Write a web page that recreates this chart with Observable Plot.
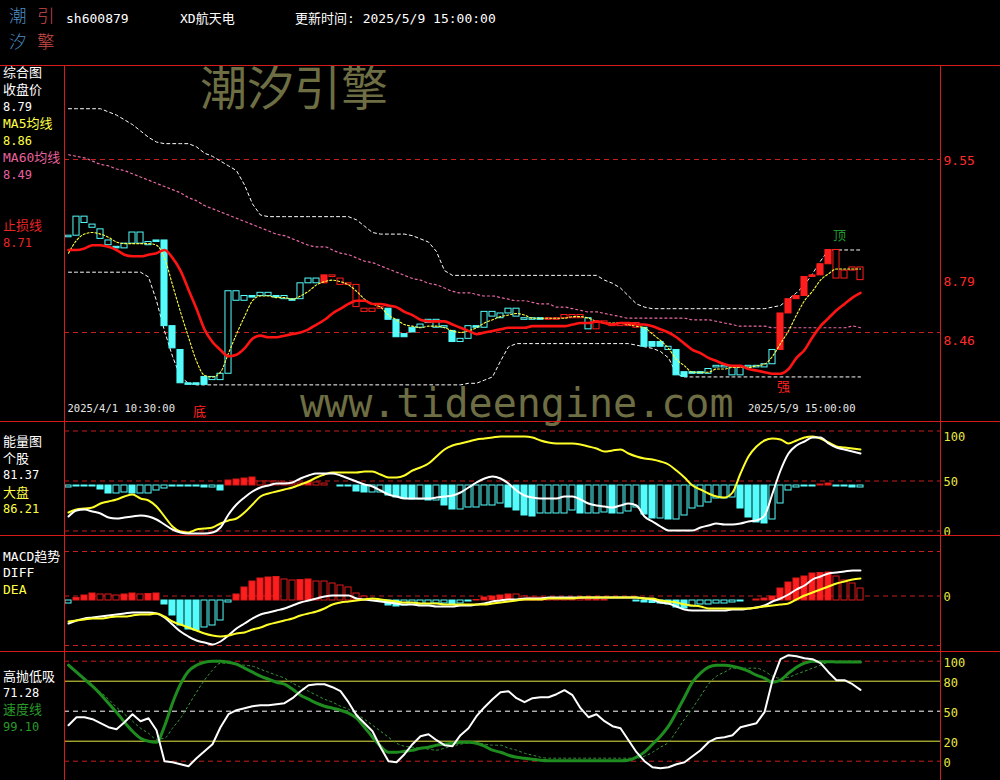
<!DOCTYPE html>
<html><head><meta charset="utf-8">
<script src="https://cdn.jsdelivr.net/npm/d3@7"></script>
<script src="https://cdn.jsdelivr.net/npm/@observablehq/plot@0.6"></script>
<style>
html,body{margin:0;padding:0;background:#000;}
#root{position:relative;width:1000px;height:780px;background:#000;overflow:hidden;font-family:"DejaVu Sans Mono","Noto Sans CJK SC",monospace;color:#fff;}
.t{position:absolute;white-space:nowrap;line-height:16px;font-size:13px;}
.panel{position:absolute;left:0;}
.panel svg{display:block;}
.h{position:absolute;left:0;width:1000px;height:1px;background:#d41c1c;}
.v{position:absolute;top:65px;width:1px;height:715px;background:#d41c1c;}
</style></head><body><div id="root"></div>
<script>
// ---------------- DATA ----------------
const stockCode = "sh600879";
const stockName = "XD航天电";
const updateTime = "更新时间: 2025/5/9 15:00:00";
const firstTime = "2025/4/1 10:30:00";
const lastTime = "2025/5/9 15:00:00";

// hourly bars (100)
const open = [9.06,9.07,9.15,9.12,9.05,9.01,9.00,8.99,9.02,9.02,
 9.01,9.04,9.04,8.50,8.35,8.14,8.14,8.18,8.16,8.16,
 8.20,8.66,8.66,8.69,8.69,8.69,8.69,8.67,8.67,8.67,
 8.77,8.77,8.77,8.82,8.80,8.77,8.76,8.61,8.61,8.62,
 8.61,8.54,8.45,8.49,8.49,8.52,8.49,8.49,8.47,8.40,
 8.42,8.50,8.49,8.56,8.55,8.58,8.56,8.54,8.54,8.55,
 8.55,8.55,8.57,8.57,8.57,8.48,8.52,8.53,8.51,8.52,
 8.50,8.52,8.49,8.40,8.40,8.35,8.35,8.21,8.21,8.21,
 8.20,8.24,8.24,8.19,8.19,8.24,8.24,8.24,8.26,8.35,
 8.58,8.67,8.69,8.81,8.82,8.89,8.98,8.85,8.87,8.87];
const close = [9.07,9.19,9.19,9.14,9.11,9.04,8.99,9.02,9.09,9.09,
 9.03,9.03,8.50,8.36,8.14,8.13,8.13,8.13,8.18,8.20,
 8.72,8.72,8.69,8.68,8.71,8.71,8.68,8.69,8.66,8.77,
 8.80,8.80,8.82,8.81,8.76,8.76,8.62,8.59,8.59,8.61,
 8.54,8.43,8.43,8.46,8.51,8.54,8.54,8.50,8.40,8.42,
 8.50,8.49,8.59,8.59,8.58,8.61,8.61,8.55,8.55,8.54,
 8.54,8.54,8.55,8.55,8.55,8.55,8.48,8.52,8.50,8.50,
 8.52,8.49,8.37,8.37,8.37,8.37,8.19,8.18,8.20,8.20,
 8.23,8.25,8.25,8.24,8.24,8.25,8.25,8.26,8.35,8.58,
 8.67,8.69,8.81,8.82,8.89,8.98,8.80,8.80,8.85,8.79];
// trend state: 1 = strong (red), 0 = weak (cyan)
const trend = [0,0,0,0,0,0,0,0,0,0, 0,0,0,0,0,0,0,0,0,0, 0,0,0,0,0,0,0,0,0,0,
 0,0,1,1,1,1,1,1,1,1, 0,0,0,0,0,0,0,0,0,0, 0,0,0,0,0,0,0,0,0,0,
 1,1,1,1,1,0,1,1,1,1, 1,1,0,0,0,0,0,0,0,0, 0,0,0,0,0,0,0,0,0,1,
 1,1,1,1,1,1,1,1,1,1];
const ma5 = [8.96,9.04,9.08,9.09,9.08,9.06,9.03,9.02,9.02,9.02,
 9.02,9.01,8.93,8.76,8.59,8.43,8.28,8.19,8.18,8.21,
 8.33,8.45,8.56,8.66,8.69,8.69,8.68,8.68,8.67,8.69,
 8.72,8.76,8.78,8.79,8.78,8.76,8.72,8.67,8.64,8.62,
 8.57,8.54,8.51,8.50,8.49,8.50,8.50,8.49,8.47,8.46,
 8.47,8.49,8.52,8.54,8.56,8.57,8.58,8.57,8.55,8.55,
 8.55,8.55,8.55,8.56,8.56,8.55,8.53,8.52,8.52,8.52,
 8.51,8.50,8.49,8.45,8.41,8.36,8.29,8.25,8.21,8.21,
 8.21,8.23,8.23,8.24,8.24,8.24,8.25,8.26,8.31,8.39,
 8.47,8.57,8.66,8.72,8.79,8.83,8.86,8.86,8.86,8.86];
const ma60 = [9.58,9.57,9.56,9.54,9.52,9.51,9.49,9.48,9.46,9.44,
 9.42,9.40,9.38,9.36,9.34,9.31,9.29,9.26,9.24,9.22,
 9.20,9.18,9.16,9.14,9.12,9.10,9.08,9.07,9.05,9.03,
 9.01,9.00,9.00,8.98,8.96,8.95,8.93,8.91,8.90,8.88,
 8.86,8.84,8.82,8.80,8.79,8.77,8.76,8.74,8.72,8.71,
 8.71,8.70,8.69,8.69,8.68,8.67,8.66,8.66,8.65,8.64,
 8.64,8.62,8.62,8.61,8.60,8.59,8.59,8.58,8.57,8.56,
 8.55,8.55,8.55,8.55,8.55,8.55,8.55,8.55,8.54,8.54,
 8.54,8.53,8.52,8.51,8.50,8.50,8.50,8.50,8.49,8.49,
 8.49,8.49,8.49,8.49,8.49,8.49,8.49,8.49,8.50,8.49];
const stopLine = [8.98,8.98,8.99,9.01,9.01,9.00,8.98,8.95,8.94,8.94,
 8.95,8.96,8.98,8.93,8.85,8.73,8.61,8.48,8.40,8.35,
 8.31,8.32,8.36,8.42,8.44,8.43,8.43,8.44,8.45,8.46,
 8.48,8.51,8.54,8.58,8.61,8.64,8.66,8.66,8.64,8.64,
 8.63,8.62,8.59,8.57,8.54,8.53,8.53,8.53,8.51,8.49,
 8.47,8.45,8.46,8.47,8.48,8.49,8.49,8.49,8.50,8.50,
 8.50,8.50,8.50,8.51,8.52,8.52,8.53,8.52,8.51,8.52,
 8.52,8.51,8.51,8.50,8.48,8.46,8.43,8.39,8.35,8.33,
 8.30,8.28,8.26,8.25,8.25,8.23,8.22,8.21,8.20,8.20,
 8.23,8.30,8.35,8.43,8.50,8.55,8.60,8.64,8.68,8.71];
const upperBand = [9.87,9.87,9.87,9.87,9.87,9.85,9.83,9.80,9.77,9.73,
 9.69,9.66,9.65,9.65,9.65,9.65,9.63,9.59,9.57,9.54,
 9.51,9.48,9.39,9.27,9.20,9.19,9.19,9.19,9.19,9.19,
 9.19,9.19,9.19,9.19,9.19,9.19,9.17,9.13,9.09,9.08,
 9.08,9.08,9.08,9.07,9.05,9.03,8.97,8.85,8.82,8.82,
 8.82,8.82,8.82,8.82,8.82,8.82,8.82,8.82,8.82,8.82,
 8.82,8.82,8.82,8.82,8.82,8.82,8.82,8.79,8.77,8.74,
 8.69,8.64,8.62,8.61,8.61,8.61,8.61,8.61,8.61,8.61,
 8.61,8.61,8.61,8.61,8.61,8.61,8.61,8.61,8.62,8.63,
 8.67,8.71,8.76,8.83,8.91,8.98,8.98,8.98,8.98,8.98];
const lowerBand = [8.84,8.84,8.84,8.84,8.84,8.84,8.84,8.84,8.84,8.84,
 8.81,8.66,8.47,8.31,8.18,8.14,8.13,8.13,8.13,8.13,
 8.13,8.13,8.13,8.13,8.13,8.13,8.13,8.13,8.13,8.13,
 8.13,8.13,8.13,8.13,8.13,8.13,8.13,8.13,8.13,8.13,
 8.13,8.13,8.13,8.13,8.13,8.13,8.13,8.13,8.13,8.13,
 8.14,8.14,8.16,8.18,8.28,8.37,8.39,8.39,8.39,8.39,
 8.39,8.39,8.39,8.39,8.39,8.39,8.39,8.39,8.39,8.39,
 8.39,8.38,8.37,8.36,8.34,8.30,8.20,8.18,8.18,8.18,
 8.18,8.18,8.18,8.18,8.18,8.18,8.18,8.18,8.18,8.18,
 8.18,8.18,8.18,8.18,8.18,8.18,8.18,8.18,8.18,8.18];
const priceGrid = [9.55, 8.46];
const priceTicks = [9.55, 8.79, 8.46];
const marks = [{i: 96, p: 9.07, t: "顶", c: "#1f9a2a"}, {i: 16, p: 7.96, t: "底", c: "#ff2020"}, {i: 89, p: 8.12, t: "强", c: "#ff2020"}];

// energy panel
const energyStock = [14.5,20.5,21.5,19.5,17.5,13.5,12.5,13.5,14.5,15.5,
 14.5,11.5,6.5,1.5,-1.5,-2.5,-2.5,-2.5,-1.5,3.5,
 16.5,26.5,33.5,39.5,43.5,45.5,47.5,47.5,48.5,52.5,
 55.5,57.5,57.5,57.5,55.5,52.5,49.5,46.5,44.5,40.5,
 36.5,34.5,32.5,32.5,32.5,32.5,33.5,34.5,35.5,38.5,
 43.5,48.5,52.5,54.5,52.5,47.5,40.5,35.5,33.5,32.5,
 32.5,32.5,34.5,34.5,31.5,27.5,25.5,24.5,23.5,25.5,
 27.5,25.5,14.5,9.5,4.5,0.5,0.5,0.5,0.5,3.5,
 5.5,7.5,6.5,6.5,7.5,9.5,10.5,15.5,37.5,60.5,
 77.5,85.5,89.5,93.5,93.5,87.5,83.5,81.5,79.5,77.5];
const energyMarket = [18.5,21.5,22.5,23.5,27.5,29.5,31.5,34.5,36.5,32.5,
 30.5,24.5,14.5,4.5,-0.5,-1.5,1.5,2.5,3.5,7.5,
 10.5,12.5,18.5,26.5,34.5,37.5,39.5,41.5,43.5,46.5,
 49.5,53.5,56.5,58.5,58.5,58.5,58.5,59.5,59.5,56.5,
 53.5,53.5,55.5,60.5,63.5,67.5,74.5,81.5,85.5,87.5,
 89.5,91.5,92.5,93.5,94.5,94.5,94.5,94.5,93.5,90.5,
 88.5,87.5,87.5,87.5,86.5,84.5,82.5,79.5,80.5,81.5,
 77.5,74.5,72.5,71.5,69.5,66.5,60.5,53.5,45.5,41.5,
 37.5,34.5,33.5,38.5,57.5,74.5,84.5,90.5,92.5,91.5,
 87.5,90.5,93.5,94.5,92.5,88.5,84.5,83.5,82.5,81.5];
const energyBase = 45.5;
const energyBars = [-2,-1,-1,-1,-4,-8,-8,-7,-8,-8,
 -8,-5,-3,-1,-1,-1,-1,-2,-2,-5,
 5,6,7,8,4,4,4,3,2,2,
 3,3,2,0,-1,-1,-6,-7,-7,-7,
 -10,-12,-13,-14,-14,-15,-15,-20,-24,-24,
 -22,-22,-20,-20,-18,-22,-25,-30,-31,-28,
 -28,-28,-28,-25,-28,-28,-28,-27,-28,-28,
 -26,-22,-29,-33,-33,-34,-34,-30,-23,-21,
 -17,-13,-13,-12,-23,-32,-37,-38,-34,-18,
 -5,-2,-1,-1,1,2,-1,-1,-2,-2];
const energyGrid = [100, 50, 0];

// MACD panel
const diff = [-23,-20,-18,-17,-16,-15,-14,-13,-12,-12,
 -12,-13,-17,-24,-31,-36,-40,-42,-44,-41,
 -35,-28,-23,-18,-14,-12,-10,-8,-5,-2,
 0,2,4,5,5,5,2,1,0,-1,
 -2,-3,-4,-4,-5,-5,-6,-6,-6,-5,
 -5,-4,-3,-1,0,1,1,2,2,2,
 3,3,3,3,3,3,3,3,3,3,
 3,3,2,1,-2,-3,-6,-9,-10,-10,
 -10,-10,-10,-9,-9,-8,-7,-5,-1,2,
 6,11,15,21,24,27,28,29,30,30];
const dea = [-21,-20,-19,-18,-18,-17,-16,-16,-15,-14,
 -14,-13,-16,-21,-24,-27,-30,-33,-35,-36,
 -35,-33,-32,-29,-27,-24,-22,-20,-18,-15,
 -13,-11,-8,-4,-2,-1,0,1,2,1,
 0,-1,-2,-2,-3,-3,-3,-4,-4,-4,
 -4,-4,-4,-3,-2,-1,0,1,1,1,
 2,2,2,2,3,3,3,3,3,3,
 3,3,2,2,0,-1,-2,-4,-5,-6,
 -8,-8,-8,-8,-8,-8,-7,-6,-5,-4,
 -3,1,5,8,11,14,17,19,21,22];
const macdHist = [-3,2.5,5,7,6,6,5,6,7,6,
 6.5,7,-4,-15,-25,-29,-30,-27,-25,-20,
 -2,6,13,19,22,23,23.5,21,20,20.5,
 21,19,19,17,15,13,7,4,1,-1,
 -5,-6,-5,-4,-4,-4,-3,-3,-4,-3,
 -1,0.5,3,4,5,6,6,4,3,3,
 2,2,1.5,1.5,1.5,1,1,0.5,0,0,
 0,-1,-2,-2.5,-3,-4,-7,-8,-6,-4,
 -4,-3,-3,-2,-1,0,1,2,4,12,
 18,22,24,27,27.5,28,24,20,17,12];
const macdGrid = [49, 4.5, -45];
const macdZeroLabel = 4.5;

// high-sell / low-buy panel
const hsLine = [36,44,44,42,38,34,32,39,47,40,
 43,31,0,-1,-3,-5,3,10,17,34,
 47,51,53,55,56,56,57,58,63,70,
 76,77,77,74,70,59,46,38,30,14,
 0,-1,7,17,25,27,21,16,15,26,
 33,45,54,62,69,70,63,59,63,64,
 64,67,71,66,53,44,47,40,35,33,
 21,9,0,-6,-7,-6,-3,-1,5,11,
 19,23,24,26,34,36,38,49,81,102,
 106,105,103,102,98,89,81,81,77,71.3];
const speedLine = [96,89,82,75,67,58,49,39,30,23,
 20,19,35,58,77,90,96,99,100,100,
 99,97,93,89,85,82,79,77,72,66,
 62,58,55,53,51,48,43,34,24,15,
 9,9,10,11,13,14,16,17,18,19,
 19,18,15,11,9,6,4,3,2,1,
 0.5,0.5,0.5,0.5,0.5,0.5,0.5,0.5,0.5,0.5,
 1,4,9,17,25,35,49,64,79,88,
 94,96,96,95,93,90,86,83,79,81,
 88,94,98,100,99.5,99.4,99.3,99.2,99.1,99.1];
const speedSlow = [96,89,82,75,69,62,54,47,40,33,
 28,22,23,33,43,56,69,81,91,98,
 98,97,96,95,92,89,86,83,78,74,
 70,66,62,59,55,52,47,42,36,30,
 24,18,15,14,13,12,11,13,15,17,
 18,18,17,16,16,13,11,8,6,4,
 3,3,3,3,3,3,3,3,3,3,
 3,3,5,9,14,19,30,42,53,65,
 77,85,89,93,93,93,93,90,85,83,
 84,87,90,93,96,99,100,100,100,100];
const hsTicks = [100, 80, 50, 20, 0];

// legend texts
const legendMain = [["综合图","#ffffff"],["收盘价","#ffffff"],["8.79","#ffffff"],["MA5均线","#ffff44"],["8.86","#ffff44"],["MA60均线","#e8609e"],["8.49","#e8609e"],["止损线","#e82424"],["8.71","#e82424"]];
const legendEnergy = [["能量图","#ffffff"],["个股","#ffffff"],["81.37","#ffffff"],["大盘","#ffff44"],["86.21","#ffff44"]];
const legendMacd = [["MACD趋势","#ffffff"],["DIFF","#ffffff"],["DEA","#ffff44"]];
const legendHs = [["高抛低吸","#ffffff"],["71.28","#ffffff"],["速度线","#2a9a2a"],["99.10","#2a9a2a"]];
const logo = [["潮","#4d8fc4"],["引","#cc4a4a"],["汐","#4d8fc4"],["擎","#cc4a4a"]];

// ---------------- DRAW ----------------
const root = document.getElementById("root");
const MONO = "DejaVu Sans Mono, Noto Sans CJK SC, monospace";
const CJK = "Noto Sans CJK SC, sans-serif";
const GRID = "#c81e1e";
const CYAN = "#54fcfc";
const RED = "#ff1e1e";
const YEL = "#e8e840";
const I = d3.range(open.length);

function addText(txt, left, top, color, size, family, extra) {
  const d = document.createElement("div");
  d.className = "t";
  d.textContent = txt;
  d.style.left = left + "px"; d.style.top = top + "px";
  d.style.color = color;
  if (size) d.style.fontSize = size + "px";
  if (family) d.style.fontFamily = family;
  if (extra) Object.assign(d.style, extra);
  root.appendChild(d);
  return d;
}

// watermarks (under everything)
addText("潮汐引擎", 200, 57, "#6e6e44", 47, CJK, {lineHeight: "56px"});
addText("www.tideengine.com", 300, 383, "#6e6e44", 40, "DejaVu Sans Mono", {lineHeight: "40px"});

// header
logo.forEach(([t, c], k) => addText(t, 9 + (k % 2) * 28, 4 + Math.floor(k / 2) * 26, c, 17.5, CJK, {lineHeight: "22px", fontWeight: "300"}));
addText(stockCode, 66, 11, "#ffffff", 13);
addText(stockName, 180, 11, "#ffffff", 13);
addText(updateTime, 295, 11, "#ffffff", 13);

function legend(items, tops) {
  items.forEach(([t, c], k) => {
    const numeric = /^[0-9.]+$/.test(t);
    addText(t, 3, tops[k], c, numeric ? 12 : 13);
  });
}
legend(legendMain, [65, 82, 99, 116, 133, 150, 167, 218, 235]);
legend(legendEnergy, [434, 451, 467, 485, 501]);
legend(legendMacd, [549, 565, 582]);
legend(legendHs, [669, 685, 702, 719]);

function panel(top, h, lo, hi, marks) {
  const svg = Plot.plot({
    width: 1000, height: h, marginLeft: 64, marginRight: 60, marginTop: 0, marginBottom: 0,
    x: {domain: [-0.5, 109], axis: null},
    y: {domain: [lo, hi], range: [h, 0], axis: null},
    style: {background: "transparent", overflow: "visible"},
    marks
  });
  const div = document.createElement("div");
  div.className = "panel";
  div.style.top = top + "px";
  div.appendChild(svg);
  root.appendChild(div);
}
const HW = 0.38;
const line = (arr, opts) => Plot.line(I, Object.assign({x: i => i, y: i => arr[i]}, opts));
const rightLabel = (v, txt, dy, color, size) => Plot.text([v], {y: d => d, text: () => txt, frameAnchor: "right", dx: 3, dy, textAnchor: "start", fill: color, fontFamily: MONO, fontSize: size});
const grow = (arr, i) => i > 0 && (Math.sign(arr[i]) !== Math.sign(arr[i - 1]) || Math.abs(arr[i]) > Math.abs(arr[i - 1]));

// ---- main panel (y 65..421) ----
const candles = I.map(i => ({
  i, o: open[i], c: close[i],
  col: trend[i] ? RED : CYAN,
  filled: trend[i] ? close[i] > open[i] : close[i] < open[i]
}));
panel(65, 356, 7.8992, 10.1424, [
  Plot.ruleY(priceGrid, {stroke: GRID, strokeDasharray: "5,4"}),
  line(upperBand, {stroke: "#ffffff", strokeWidth: 1, strokeDasharray: "3,3"}),
  line(lowerBand, {stroke: "#ffffff", strokeWidth: 1, strokeDasharray: "3,3"}),
  line(ma60, {stroke: "#e868a4", strokeWidth: 1.2, strokeDasharray: "2,3", curve: "monotone-x"}),
  Plot.rect(candles, {x1: d => d.i - HW, x2: d => d.i + HW, y1: "o", y2: "c",
    fill: d => d.filled ? d.col : "#000000", stroke: d => d.col, strokeWidth: 1}),
  line(ma5, {stroke: "#ffff40", strokeWidth: 1.1, strokeDasharray: "2,2", curve: "monotone-x"}),
  line(stopLine, {stroke: "#ff1414", strokeWidth: 2.6, curve: "monotone-x"}),
  Plot.text(marks, {x: "i", y: "p", text: "t", fill: d => d.c, dx: 3, fontFamily: CJK, fontSize: 13}),
  Plot.text([0], {x: d => d, text: () => firstTime, frameAnchor: "bottom", dy: -10, dx: -1, textAnchor: "start", fill: "#e8e8e8", fontFamily: MONO, fontSize: 10.5}),
  Plot.text([I.length - 1], {x: d => d, text: () => lastTime, frameAnchor: "bottom", dy: -10, dx: -5, textAnchor: "end", fill: "#e8e8e8", fontFamily: MONO, fontSize: 10.5}),
  rightLabel(priceTicks[0], priceTicks[0].toFixed(2), 1, "#ff2a2a", 13),
  rightLabel(priceTicks[1], priceTicks[1].toFixed(2), 1.5, "#ff2a2a", 13),
  rightLabel(priceTicks[2], priceTicks[2].toFixed(2), 8, "#ff2a2a", 13)
]);

// ---- energy panel (y 421..535) ----
const ebars = I.map(i => ({i, v: energyBars[i], filled: grow(energyBars, i)})).filter(d => d.v !== 0);
panel(421, 114, -4.5, 109.5, [
  Plot.ruleY(energyGrid, {stroke: GRID, strokeDasharray: "5,4"}),
  Plot.rect(ebars, {x1: d => d.i - HW, x2: d => d.i + HW, y1: () => energyBase, y2: d => energyBase + d.v,
    fill: d => d.filled ? (d.v > 0 ? RED : CYAN) : "#000000",
    stroke: d => d.v > 0 ? "#d01818" : CYAN, strokeWidth: 1}),
  line(energyMarket, {stroke: "#ffff28", strokeWidth: 2, curve: "monotone-x"}),
  line(energyStock, {stroke: "#ffffff", strokeWidth: 2, curve: "monotone-x"}),
  rightLabel(100, "100", 6, YEL, 12),
  rightLabel(50, "50", 1, YEL, 12),
  rightLabel(0, "0", 1.5, YEL, 12)
]);

// ---- MACD panel (y 535..651) ----
const mbars = I.map(i => ({i, v: macdHist[i], filled: grow(macdHist, i)})).filter(d => d.v !== 0);
panel(535, 116, -51, 65, [
  Plot.ruleY(macdGrid, {stroke: GRID, strokeDasharray: "5,4"}),
  Plot.rect(mbars, {x1: d => d.i - HW, x2: d => d.i + HW, y1: () => 0, y2: d => d.v,
    fill: d => d.filled ? (d.v > 0 ? RED : CYAN) : "#000000",
    stroke: d => d.v > 0 ? "#e01a1a" : CYAN, strokeWidth: 1}),
  line(diff, {stroke: "#ffffff", strokeWidth: 2, curve: "monotone-x"}),
  line(dea, {stroke: "#ffff28", strokeWidth: 2, curve: "monotone-x"}),
  rightLabel(macdZeroLabel, "0", 1.5, YEL, 12)
]);

// ---- high-sell / low-buy panel (y 651..780) ----
panel(651, 129, -19.3, 109.7, [
  Plot.ruleY([100, 0], {stroke: GRID, strokeDasharray: "5,4"}),
  Plot.ruleY([80, 20], {stroke: "#e8e840", strokeWidth: 1}),
  Plot.ruleY([50], {stroke: "#ffffff", strokeDasharray: "5,4"}),
  line(speedSlow, {stroke: "#3a9a3a", strokeWidth: 1, strokeDasharray: "2,3", curve: "monotone-x"}),
  line(speedLine, {stroke: "#1e8c1e", strokeWidth: 3, curve: "monotone-x"}),
  line(hsLine, {stroke: "#ffffff", strokeWidth: 2}),
  ...hsTicks.map(v => rightLabel(v, String(v), 1.5, YEL, 12))
]);

// frame lines on top
[65, 421, 535, 651].forEach(y => { const d = document.createElement("div"); d.className = "h"; d.style.top = y + "px"; root.appendChild(d); });
[64, 940].forEach(x => { const d = document.createElement("div"); d.className = "v"; d.style.left = x + "px"; root.appendChild(d); });
</script></body></html>
